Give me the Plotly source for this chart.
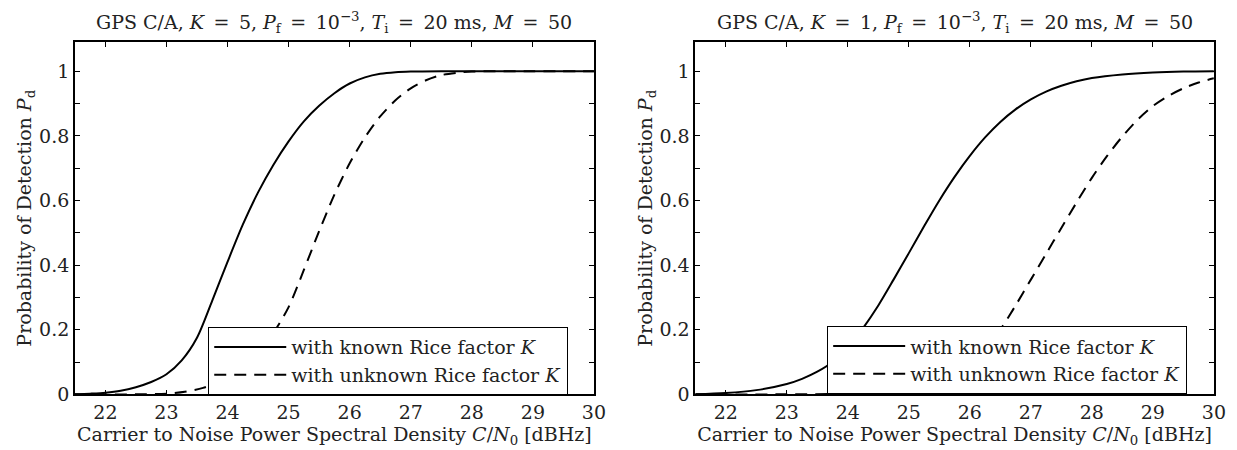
import plotly.graph_objects as go

# ---- data ----
# Left panel: K = 5
left_known_x = [21.5, 21.75, 22.0, 22.25, 22.5, 22.75, 23.0, 23.25, 23.5, 23.75, 24.0, 24.25, 24.5, 24.75, 25.0, 25.25, 25.5, 25.75, 26.0, 26.25, 26.5, 26.75, 27.0, 27.5, 28.0, 29.0, 30.0]
left_known_y = [0.0, 0.002, 0.005, 0.011, 0.022, 0.038, 0.062, 0.105, 0.175, 0.29, 0.41, 0.525, 0.625, 0.71, 0.783, 0.845, 0.893, 0.932, 0.962, 0.981, 0.992, 0.997, 0.999, 1.0, 1.0, 1.0, 1.0]
left_unknown_x = [21.5, 22.5, 23.0, 23.3, 23.6, 24.0, 24.25, 24.5, 24.75, 25.0, 25.25, 25.5, 25.75, 26.0, 26.25, 26.5, 26.75, 27.0, 27.25, 27.5, 27.75, 28.0, 29.0, 30.0]
left_unknown_y = [0.0, 0.0, 0.002, 0.008, 0.02, 0.05, 0.08, 0.13, 0.19, 0.27, 0.385, 0.505, 0.618, 0.715, 0.795, 0.86, 0.91, 0.947, 0.972, 0.988, 0.995, 0.999, 1.0, 1.0]

# Right panel: K = 1
right_known_x = [21.5, 22.0, 22.5, 23.0, 23.25, 23.5, 23.75, 24.0, 24.25, 24.5, 24.75, 25.0, 25.25, 25.5, 25.75, 26.0, 26.25, 26.5, 26.75, 27.0, 27.25, 27.5, 27.75, 28.0, 28.5, 29.0, 29.5, 30.0]
right_known_y = [0.0, 0.004, 0.013, 0.032, 0.048, 0.07, 0.10, 0.145, 0.205, 0.275, 0.355, 0.437, 0.52, 0.6, 0.673, 0.738, 0.795, 0.843, 0.882, 0.913, 0.937, 0.955, 0.969, 0.979, 0.99, 0.996, 0.999, 1.0]
right_unknown_x = [21.5, 23.0, 24.0, 24.5, 25.0, 25.25, 25.5, 25.75, 26.0, 26.25, 26.5, 26.75, 27.0, 27.25, 27.5, 27.75, 28.0, 28.25, 28.5, 28.75, 29.0, 29.25, 29.5, 29.75, 30.0]
right_unknown_y = [0.0, 0.0, 0.002, 0.008, 0.018, 0.028, 0.042, 0.062, 0.09, 0.135, 0.20, 0.275, 0.355, 0.435, 0.515, 0.594, 0.67, 0.738, 0.798, 0.85, 0.892, 0.923, 0.947, 0.965, 0.978]

x_ticks = [22, 23, 24, 25, 26, 27, 28, 29, 30]
y_ticks = [0, 0.2, 0.4, 0.6, 0.8, 1]
y_tick_labels = ["0", "0.2", "0.4", "0.6", "0.8", "1"]

EQ = "&#8194;=&#8194;"
titles = [
    f"GPS C/A, <i>K</i>{EQ}5, <i>P</i><sub>f</sub>{EQ}10<sup>−3</sup>, <i>T</i><sub>i</sub>{EQ}20 ms, <i>M</i>{EQ}50",
    f"GPS C/A, <i>K</i>{EQ}1, <i>P</i><sub>f</sub>{EQ}10<sup>−3</sup>, <i>T</i><sub>i</sub>{EQ}20 ms, <i>M</i>{EQ}50",
]
x_title = "Carrier to Noise Power Spectral Density <i>C</i>/<i>N</i><sub>0</sub> [dBHz]"
y_title = "Probability of Detection <i>P</i><sub>d</sub>"
name_known = "with known Rice factor <i>K</i>"
name_unknown = "with unknown Rice factor <i>K</i>"

FONT = "DejaVu Serif"
FS = 19
TXT = "#222"
W, H = 1237, 450

fig = go.Figure()

panels = [
    (left_known_x, left_known_y, left_unknown_x, left_unknown_y, "x", "y", "legend"),
    (right_known_x, right_known_y, right_unknown_x, right_unknown_y, "x2", "y2", "legend2"),
]
for kx, ky, ux, uy, xa, ya, lg in panels:
    fig.add_trace(go.Scatter(x=kx, y=ky, mode="lines", name=name_known,
                             line=dict(color="black", width=2, shape="spline", smoothing=0.8),
                             xaxis=xa, yaxis=ya, legend=lg))
    fig.add_trace(go.Scatter(x=ux, y=uy, mode="lines", name=name_unknown,
                             line=dict(color="black", width=2, dash="12px,8px", shape="spline", smoothing=0.8),
                             xaxis=xa, yaxis=ya, legend=lg))

left_dom = [67.5 / W, 591.7 / W]
right_dom = [694.0 / W, 1217.7 / W]
y_dom = [1 - 396 / H, 1 - 35 / H]

axis_common = dict(
    showline=True, linecolor="black", linewidth=1.5, mirror="ticks",
    ticks="inside", ticklen=5, tickcolor="black", tickwidth=1,
    showgrid=False, zeroline=False,
    tickfont=dict(family=FONT, size=FS, color=TXT),
)
minor = dict(dtick=0.1, ticks="inside", ticklen=5, tickcolor="black", showgrid=False)

fig.update_layout(
    width=W, height=H,
    margin=dict(l=0, r=0, t=0, b=0),
    paper_bgcolor="white", plot_bgcolor="white",
    font=dict(family=FONT, size=FS, color=TXT),
    xaxis=dict(domain=left_dom, anchor="y", range=[21.5, 30], tickvals=x_ticks, **axis_common,
               title=dict(text=x_title, font=dict(family=FONT, size=FS, color=TXT), standoff=0)),
    yaxis=dict(domain=y_dom, anchor="x", range=[0, 1.09], tickvals=y_ticks, ticktext=y_tick_labels,
               minor=minor, **axis_common,
               title=dict(text=y_title, font=dict(family=FONT, size=FS, color=TXT), standoff=2)),
    xaxis2=dict(domain=right_dom, anchor="y2", range=[21.5, 30], tickvals=x_ticks, **axis_common,
                title=dict(text=x_title, font=dict(family=FONT, size=FS, color=TXT), standoff=0)),
    yaxis2=dict(domain=y_dom, anchor="x2", range=[0, 1.09], tickvals=y_ticks, ticktext=y_tick_labels,
                minor=minor, **axis_common,
                title=dict(text=y_title, font=dict(family=FONT, size=FS, color=TXT), standoff=2)),
    legend=dict(x=202 / W, y=1 - 327 / H, xanchor="left", yanchor="top",
                bgcolor="white", bordercolor="black", borderwidth=1.2,
                font=dict(family=FONT, size=FS, color=TXT), itemwidth=72, tracegroupgap=0),
    legend2=dict(x=827 / W, y=1 - 326 / H, xanchor="left", yanchor="top",
                 bgcolor="white", bordercolor="black", borderwidth=1.2,
                 font=dict(family=FONT, size=FS, color=TXT), itemwidth=72, tracegroupgap=0),
    showlegend=True,
)

for i, dom in enumerate([left_dom, right_dom]):
    fig.add_annotation(text=titles[i], xref="paper", yref="paper",
                       x=(dom[0] + dom[1]) / 2, y=1 - 15 / H, xanchor="center", yanchor="middle",
                       showarrow=False, font=dict(family=FONT, size=19, color=TXT))

fig.write_html("out.html")
